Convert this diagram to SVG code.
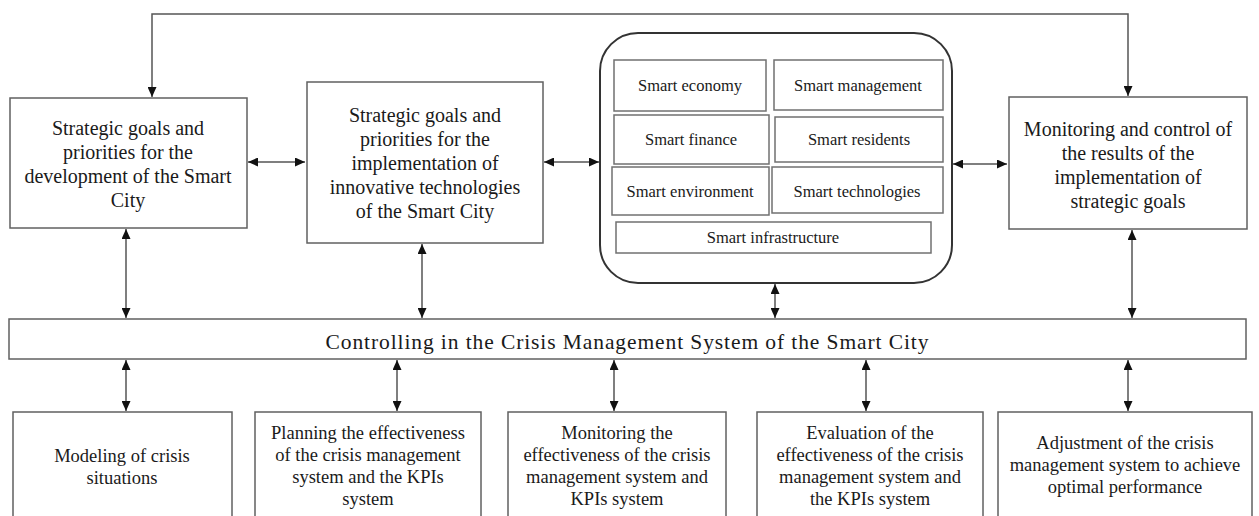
<svg xmlns="http://www.w3.org/2000/svg" width="1259" height="516" viewBox="0 0 1259 516">
<style>
.box{fill:#fff;stroke:#606060;stroke-width:1.5}
.inner{fill:#fff;stroke:#707070;stroke-width:1.5}
.round{fill:#fff;stroke:#333;stroke-width:2}
.t{font-family:"Liberation Serif","Times New Roman",serif;fill:#1a1a1a;text-anchor:middle}
.t20{font-size:20px}
.t16{font-size:16.5px}
.t18{font-size:18.5px}
.conn{fill:none;stroke:#555;stroke-width:1.5}
</style>
<defs>
<marker id="ah" markerUnits="userSpaceOnUse" markerWidth="10" markerHeight="9" refX="10" refY="4.5" orient="auto-start-reverse">
<path d="M0,0 L10,4.5 L0,9 z" fill="#111"/>
</marker>
</defs>
<rect width="1259" height="516" fill="#fff"/>

<g id="connectors">
<path class="conn" d="M152,97 V14 H1128 V96" marker-start="url(#ah)" marker-end="url(#ah)"/>
<line class="conn" x1="248" y1="162" x2="305" y2="162" marker-start="url(#ah)" marker-end="url(#ah)"/>
<line class="conn" x1="544" y1="162" x2="599" y2="162" marker-start="url(#ah)" marker-end="url(#ah)"/>
<line class="conn" x1="953" y1="164" x2="1007" y2="164" marker-start="url(#ah)" marker-end="url(#ah)"/>
<line class="conn" x1="126" y1="229" x2="126" y2="318" marker-start="url(#ah)" marker-end="url(#ah)"/>
<line class="conn" x1="422" y1="244" x2="422" y2="318" marker-start="url(#ah)" marker-end="url(#ah)"/>
<line class="conn" x1="775" y1="284" x2="775" y2="318" marker-start="url(#ah)" marker-end="url(#ah)"/>
<line class="conn" x1="1132" y1="230" x2="1132" y2="318" marker-start="url(#ah)" marker-end="url(#ah)"/>
<line class="conn" x1="126" y1="360" x2="126" y2="411" marker-start="url(#ah)" marker-end="url(#ah)"/>
<line class="conn" x1="397" y1="360" x2="397" y2="411" marker-start="url(#ah)" marker-end="url(#ah)"/>
<line class="conn" x1="614" y1="360" x2="614" y2="411" marker-start="url(#ah)" marker-end="url(#ah)"/>
<line class="conn" x1="866" y1="360" x2="866" y2="411" marker-start="url(#ah)" marker-end="url(#ah)"/>
<line class="conn" x1="1128" y1="360" x2="1128" y2="411" marker-start="url(#ah)" marker-end="url(#ah)"/>
</g>

<g id="goals-development">
<rect class="box" x="10" y="98" width="237" height="130"/>
<text class="t t20" x="128" y="135">Strategic goals and</text>
<text class="t t20" x="128" y="159">priorities for the</text>
<text class="t t20" x="128" y="183">development of the Smart</text>
<text class="t t20" x="128" y="207">City</text>
</g>

<g id="goals-innovation">
<rect class="box" x="307" y="82" width="236" height="161"/>
<text class="t t20" x="425" y="122">Strategic goals and</text>
<text class="t t20" x="425" y="146">priorities for the</text>
<text class="t t20" x="425" y="170">implementation of</text>
<text class="t t20" x="425" y="194">innovative technologies</text>
<text class="t t20" x="425" y="218">of the Smart City</text>
</g>

<g id="smart-components">
<rect class="round" x="600" y="33" width="352" height="250" rx="38" ry="38"/>
<rect class="inner" x="614" y="60" width="152" height="51"/>
<text class="t t16" x="690" y="91">Smart economy</text>
<rect class="inner" x="774" y="60" width="169" height="50"/>
<text class="t t16" x="858" y="91">Smart management</text>
<rect class="inner" x="614" y="115" width="155" height="49"/>
<text class="t t16" x="691" y="145">Smart finance</text>
<rect class="inner" x="775" y="117" width="168" height="45"/>
<text class="t t16" x="859" y="145">Smart residents</text>
<rect class="inner" x="612" y="167" width="157" height="48"/>
<text class="t t16" x="690" y="197">Smart environment</text>
<rect class="inner" x="772" y="167" width="171" height="46"/>
<text class="t t16" x="857" y="197">Smart technologies</text>
<rect class="inner" x="616" y="222" width="315" height="31"/>
<text class="t t16" x="773" y="243">Smart infrastructure</text>
</g>

<g id="monitoring-control">
<rect class="box" x="1009" y="97" width="238" height="132"/>
<text class="t t20" x="1128" y="136">Monitoring and control of</text>
<text class="t t20" x="1128" y="160">the results of the</text>
<text class="t t20" x="1128" y="184">implementation of</text>
<text class="t t20" x="1128" y="208">strategic goals</text>
</g>

<g id="controlling">
<rect class="box" x="9" y="319" width="1237" height="40"/>
<text class="t" x="627" y="349" font-size="21.5" textLength="603" lengthAdjust="spacing">Controlling  in the Crisis Management  System of the Smart City</text>
</g>

<g id="modeling">
<rect class="box" x="13" y="412" width="219" height="120"/>
<text class="t t18" x="122" y="462">Modeling of crisis</text>
<text class="t t18" x="122" y="484">situations</text>
</g>

<g id="planning">
<rect class="box" x="255" y="412" width="226" height="120"/>
<text class="t t18" x="368" y="439">Planning the effectiveness</text>
<text class="t t18" x="368" y="461">of the crisis management</text>
<text class="t t18" x="368" y="483">system and the KPIs</text>
<text class="t t18" x="368" y="505">system</text>
</g>

<g id="monitoring-effectiveness">
<rect class="box" x="508" y="412" width="218" height="120"/>
<text class="t t18" x="617" y="439">Monitoring the</text>
<text class="t t18" x="617" y="461">effectiveness of the crisis</text>
<text class="t t18" x="617" y="483">management system and</text>
<text class="t t18" x="617" y="505">KPIs system</text>
</g>

<g id="evaluation">
<rect class="box" x="757" y="412" width="226" height="120"/>
<text class="t t18" x="870" y="439">Evaluation of the</text>
<text class="t t18" x="870" y="461">effectiveness of the crisis</text>
<text class="t t18" x="870" y="483">management system and</text>
<text class="t t18" x="870" y="505">the KPIs system</text>
</g>

<g id="adjustment">
<rect class="box" x="998" y="412" width="254" height="120"/>
<text class="t t18" x="1125" y="449">Adjustment of the crisis</text>
<text class="t t18" x="1125" y="471">management system to achieve</text>
<text class="t t18" x="1125" y="493">optimal performance</text>
</g>
</svg>
